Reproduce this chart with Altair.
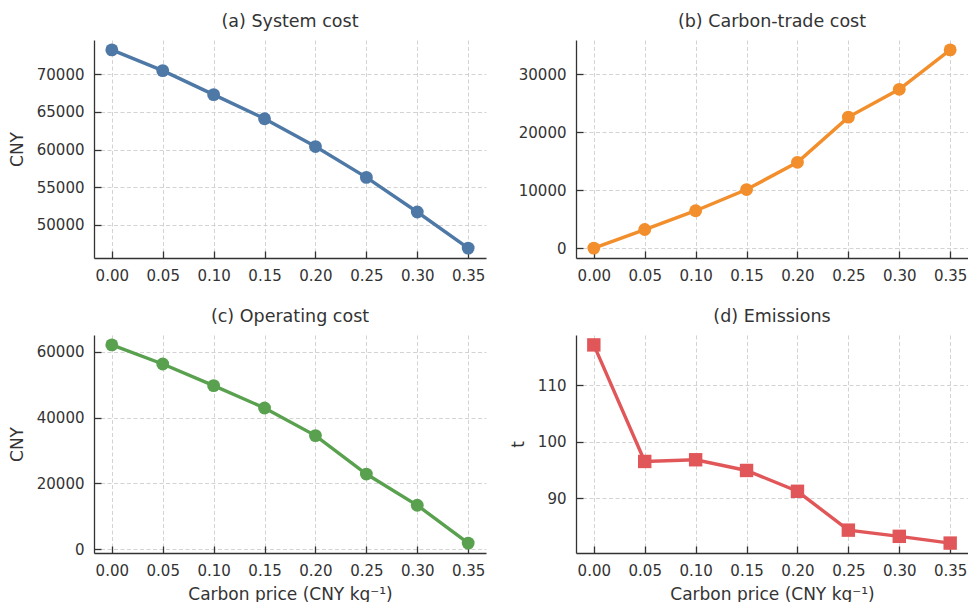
import altair as alt
import pandas as pd

# Carbon price levels (CNY per kg)
price = [0.00, 0.05, 0.10, 0.15, 0.20, 0.25, 0.30, 0.35]

# Results per carbon price
system_cost = [73250, 70500, 67300, 64100, 60400, 56300, 51700, 46900]
carbon_trade_cost = [0, 3200, 6450, 10100, 14800, 22600, 27400, 34200]
operating_cost = [62100, 56300, 49700, 42900, 34500, 22800, 13300, 1800]
emissions = [117.2, 96.5, 96.8, 94.9, 91.2, 84.3, 83.2, 82.0]

# Tick values
x_ticks = [0.00, 0.05, 0.10, 0.15, 0.20, 0.25, 0.30, 0.35]
y_ticks_system = [50000, 55000, 60000, 65000, 70000]
y_ticks_trade = [0, 10000, 20000, 30000]
y_ticks_operating = [0, 20000, 40000, 60000]
y_ticks_emissions = [90, 100, 110]

FONT = "DejaVu Sans"
TEXT = "#333333"
LABEL_SIZE = 15
TITLE_SIZE = 17
PANEL_W, PANEL_H = 392, 218
TICK_LEN = 7


def padded(vals, frac=0.05):
    lo, hi = min(vals), max(vals)
    pad = (hi - lo) * frac
    return [lo - pad, hi + pad]


def axis_style():
    return dict(
        labelFont=FONT, labelFontSize=LABEL_SIZE, labelColor=TEXT,
        titleFont=FONT, titleFontSize=TITLE_SIZE, titleFontWeight="normal",
        titleColor=TEXT,
    )


def panel(values, title, color, shape, size, y_title, y_ticks, x_title):
    df = pd.DataFrame({"price": price, "value": values})
    xs = alt.Scale(domain=padded(price), nice=False, zero=False)
    ys = alt.Scale(domain=padded(values), nice=False, zero=False)

    main = alt.Chart(df).mark_line(
        color=color,
        strokeWidth=3.4,
        point=alt.OverlayMarkDef(shape=shape, size=size, filled=True,
                                 color=color, opacity=1),
    ).encode(
        x=alt.X("price:Q", scale=xs, axis=alt.Axis(
            values=x_ticks, format=".2f", orient="bottom",
            title=x_title, tickSize=0, labelPadding=10, titlePadding=8,
            **axis_style(),
        )),
        y=alt.Y("value:Q", scale=ys, axis=alt.Axis(
            values=y_ticks, format="d", orient="left",
            title=y_title, tickSize=0, labelPadding=10, titlePadding=10,
            **axis_style(),
        )),
    )

    # inward-pointing tick marks
    inner = alt.Chart(df).mark_line(opacity=0).encode(
        x=alt.X("price:Q", scale=xs, axis=alt.Axis(
            values=x_ticks, orient="bottom", offset=-TICK_LEN,
            tickSize=TICK_LEN, labels=False, domain=False, grid=False,
            title=None,
        )),
        y=alt.Y("value:Q", scale=ys, axis=alt.Axis(
            values=y_ticks, orient="left", offset=-TICK_LEN,
            tickSize=TICK_LEN, labels=False, domain=False, grid=False,
            title=None,
        )),
    )

    return alt.layer(main, inner).resolve_axis(
        x="independent", y="independent"
    ).properties(
        width=PANEL_W, height=PANEL_H,
        title=alt.TitleParams(title, frame="group", anchor="middle"),
    )


xlab = "Carbon price (CNY kg⁻¹)"
a = panel(system_cost, "(a) System cost", "#4E79A7", "circle", 165,
          "CNY", y_ticks_system, None)
b = panel(carbon_trade_cost, "(b) Carbon-trade cost", "#F28E2B", "circle", 165,
          None, y_ticks_trade, None)
c = panel(operating_cost, "(c) Operating cost", "#59A14F", "circle", 165,
          "CNY", y_ticks_operating, xlab)
d = panel(emissions, "(d) Emissions", "#E15759", "square", 180,
          "t", y_ticks_emissions, xlab)

chart = alt.concat(a, b, c, d, columns=2, spacing={"row": 24, "column": 23}).properties(
    padding={"left": 8, "top": 12, "right": 0, "bottom": 0},
    background="white",
).configure_view(
    stroke=None,
).configure_axis(
    domainColor="#333333", domainWidth=1.3,
    tickColor="#333333", tickWidth=1.3,
    gridColor="#c8c8c8", gridDash=[4, 2.5], gridWidth=0.8,
).configure_title(
    font=FONT, fontSize=17.5, fontWeight="normal", color=TEXT, offset=10,
)

chart.save("out.html", embed_options={"renderer": "svg", "actions": False})
